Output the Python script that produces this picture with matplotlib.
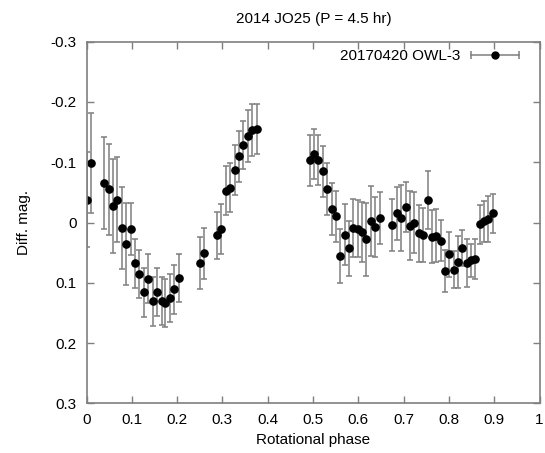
import matplotlib
matplotlib.use('Agg')
import matplotlib.pyplot as plt
from matplotlib.lines import Line2D
from matplotlib.legend_handler import HandlerBase
from matplotlib.container import ErrorbarContainer

plt.rcParams['font.family'] = ['Liberation Sans', 'DejaVu Sans']

# Fase rotacional, magnitude diferencial e erro
fase = [0.0018, 0.0092, 0.0390, 0.0493, 0.0596, 0.0675, 0.0785, 0.0873, 0.0982, 0.1064,
        0.1167, 0.1261, 0.1364, 0.1458, 0.1553, 0.1656, 0.1743, 0.1838, 0.1941, 0.2035,
        0.2504, 0.2599, 0.2890, 0.2978, 0.3075, 0.3175, 0.3272, 0.3366, 0.3454, 0.3557,
        0.3651, 0.3754,
        0.4923, 0.5022, 0.5121, 0.5215, 0.5311, 0.5410, 0.5504, 0.5603, 0.5697, 0.5794,
        0.5877, 0.5987, 0.6081, 0.6178, 0.6276, 0.6377, 0.6469,
        0.6750, 0.6846, 0.6941, 0.7046, 0.7138, 0.7232, 0.7331, 0.7428, 0.7533, 0.7627,
        0.7726, 0.7822, 0.7921, 0.8009, 0.8103, 0.8197, 0.8296, 0.8393, 0.8487, 0.8586,
        0.8680, 0.8772, 0.8871, 0.8969]
mag = [-0.038, -0.098, -0.066, -0.055, -0.027, -0.038, 0.009, 0.036, 0.011, 0.068,
       0.086, 0.116, 0.093, 0.131, 0.115, 0.130, 0.134, 0.125, 0.111, 0.092,
       0.067, 0.051, 0.021, 0.011, -0.053, -0.058, -0.087, -0.110, -0.129, -0.143,
       -0.154, -0.155,
       -0.103, -0.114, -0.104, -0.085, -0.056, -0.023, -0.010, 0.055, 0.020, 0.043,
       0.009, 0.010, 0.016, 0.028, -0.002, 0.007, -0.007,
       0.004, -0.015, -0.007, -0.026, 0.005, 0.000, 0.018, 0.021, -0.037, 0.024,
       0.022, 0.030, 0.080, 0.053, 0.078, 0.066, 0.043, 0.067, 0.063, 0.060,
       0.003, -0.002, -0.006, -0.015]
erro = [0.079, 0.083, 0.076, 0.075, 0.078, 0.070, 0.068, 0.068, 0.043, 0.040,
        0.040, 0.040, 0.040, 0.040, 0.040, 0.040, 0.040, 0.040, 0.040, 0.040,
        0.043, 0.042, 0.039, 0.042, 0.041, 0.040, 0.042, 0.042, 0.040, 0.043,
        0.043, 0.042,
        0.042, 0.041, 0.042, 0.042, 0.043, 0.043, 0.043, 0.045, 0.050, 0.045,
        0.048, 0.048, 0.050, 0.060, 0.058, 0.050, 0.043,
        0.043, 0.044, 0.055, 0.042, 0.058, 0.050, 0.047, 0.045, 0.048, 0.044,
        0.044, 0.034, 0.035, 0.037, 0.030, 0.043, 0.030, 0.040, 0.028, 0.033,
        0.032, 0.034, 0.038, 0.033]

rotulo = '20170420 OWL-3'
cinza = '#7f7f7f'


class BarraHorizontal(HandlerBase):
    def create_artists(self, legend, orig_handle, xdescent, ydescent,
                       width, height, fontsize, trans):
        y = height / 2 - ydescent
        x0, x1 = -xdescent, width - xdescent
        linha = Line2D([x0, x1], [y, y], color=cinza, lw=1.1)
        caps = Line2D([x0, x1], [y, y], ls='none', marker='|', ms=6,
                      mew=1.1, color=cinza)
        ponto = Line2D([(x0 + x1) / 2], [y], ls='none', marker='o', ms=5,
                       color='black')
        for a in (linha, caps, ponto):
            a.set_transform(trans)
        return [linha, caps, ponto]


fig = plt.figure(figsize=(5.45, 4.53), dpi=100)
ax = fig.add_axes([86.5 / 545, 1 - 403.3 / 453, 453 / 545, 361.6 / 453])

eb = ax.errorbar(fase, mag, yerr=erro, fmt='o', color='black', ms=5.2,
                 ecolor=cinza, elinewidth=1.1, capsize=2.5, capthick=1.1,
                 label=rotulo)

ax.set_xlim(0, 1)
ax.set_ylim(0.3, -0.3)
ax.set_xticks([i / 10 for i in range(11)])
ax.set_xticklabels(['0', '0.1', '0.2', '0.3', '0.4', '0.5', '0.6', '0.7', '0.8', '0.9', '1'])
ax.set_yticks([-0.3, -0.2, -0.1, 0, 0.1, 0.2, 0.3])
ax.set_yticklabels(['-0.3', '-0.2', '-0.1', '0', '0.1', '0.2', '0.3'])
ax.tick_params(direction='in', length=5, width=1.0, color=cinza,
               top=True, right=True, labelsize=11, pad=7)
for s in ax.spines.values():
    s.set_color(cinza)
    s.set_linewidth(1.2)

ax.set_xlabel('Rotational phase', fontsize=11, labelpad=4)
ax.set_ylabel('Diff. mag.', fontsize=11, labelpad=14)
fig.text(314 / 545, 1 - 19 / 453, '2014 JO25 (P = 4.5 hr)', fontsize=11,
         ha='center', va='center')

ax.legend(handles=[eb], labels=[rotulo], handler_map={ErrorbarContainer: BarraHorizontal()},
          loc='center right', bbox_to_anchor=(0.9544, 0.9605), frameon=False,
          markerfirst=False, borderpad=0, borderaxespad=0, handlelength=3.1,
          handletextpad=0.7, fontsize=11)

fig.savefig('out.png', dpi=100)
